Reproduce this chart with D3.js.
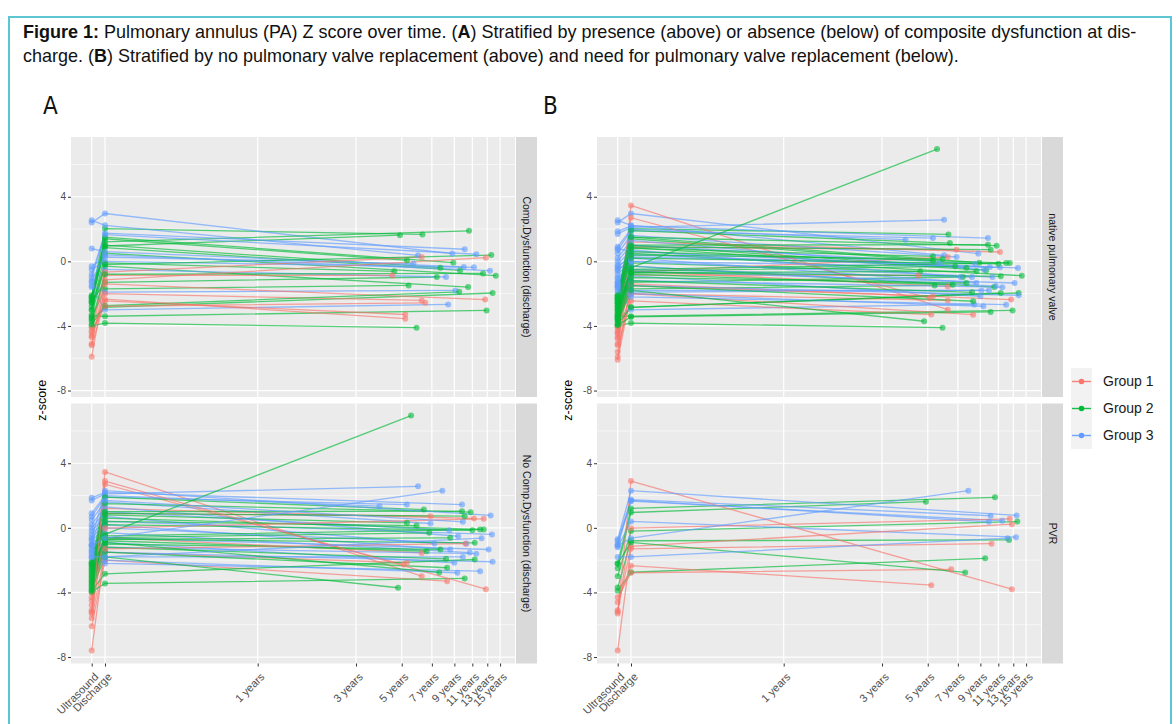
<!DOCTYPE html>
<html><head><meta charset="utf-8">
<script src="https://cdn.jsdelivr.net/npm/d3@7"></script>
<style>
body{margin:0;background:#fff;}
svg{display:block;font-family:"Liberation Sans",Arial,Helvetica,sans-serif;}
</style>
</head><body>
<svg id="chart" width="1176" height="724"></svg>
<script>
// ---------------- DATA ----------------
const groupNames = ["Group 1", "Group 2", "Group 3"];
const groupColors = ["#F8766D", "#00BA38", "#619CFF"];

// time axis (years); Ultrasound and Discharge are early time points on the log axis
const timeTickValues = [0.1565, 0.1816, 1, 3, 5, 7, 9, 11, 13, 15];
const timeTickLabels = ["Ultrasound", "Discharge", "1 years", "3 years", "5 years", "7 years", "9 years", "11 years", "13 years", "15 years"];
const ultrasoundTime = 0.1565;
const dischargeTime = 0.1816;
const zMajorTicks = [-8, -4, 0, 4];
const zMinorTicks = [-6, -2, 2, 6];

// patient records: [group, ultrasound z, discharge z, follow-up years, follow-up z]
// composite dysfunction at discharge, native pulmonary valve
const compDysNative = [
  [2, -2.2, 2.03, 6.3, 1.67], [2, -2.4, 1.5, 8.9, -0.08], [2, -2.1, 1.4, 5.3, 0.06],
  [2, -2.6, 1.0, 7.7, -0.39], [2, -2.3, 0.85, 9.6, -0.56], [2, -3.0, 0.5, 14.3, -0.89],
  [2, -2.8, -0.1, 4.6, -0.62], [2, -3.3, -0.3, 10.5, -1.59], [2, -2.5, -1.3, 7.4, -0.97],
  [2, -3.5, -1.7, 5.4, -1.49], [2, -3.6, -2.85, 13.8, -1.96], [2, -3.4, -3.4, 12.9, -3.04],
  [2, -4.0, -3.82, 5.9, -4.11],
  [3, 2.4, 2.96, 8.8, 0.48], [3, 2.54, 2.23, 6.0, 0.37], [3, 0.79, 0.6, 10.0, -0.35],
  [3, -0.3, 0.27, 5.7, -0.14], [3, -0.5, 0.0, 11.2, -0.37], [3, -1.3, -0.5, 8.2, -0.97],
  [3, -1.5, -1.9, 9.1, -1.8], [3, -1.6, -3.0, 8.4, -2.67],
  [1, -4.1, -0.66, 6.25, 0.27], [1, -4.4, -0.85, 4.5, -0.87], [1, -5.9, -1.4, 12.7, -2.37],
  [1, -4.7, -2.0, 6.25, -2.42], [1, -5.2, -2.45, 5.2, -3.29]
];
// composite dysfunction at discharge, pulmonary valve replacement
const compDysPVR = [
  [2, -2.2, 1.2, 10.6, 1.89], [2, -2.5, 0.95, 4.9, 1.62], [2, -3.0, -0.2, 13.6, 0.39],
  [2, -3.7, -0.8, 12.4, -0.75], [2, -3.9, -2.75, 9.5, -1.89],
  [3, -0.8, 1.75, 10.1, 0.75], [3, -1.0, 1.65, 11.5, 0.44], [3, -1.2, 0.4, 13.4, -0.58],
  [1, -5.1, -1.15, 12.8, 0.23], [1, -4.6, -2.34, 5.2, -3.55], [1, -4.3, -2.78, 6.5, -2.57]
];
// no composite dysfunction, native pulmonary valve
const noCompDysNative = [
  [1, -4.5, 3.46, 6.25, -2.99], [1, -4.0, 2.7, 5.1, -2.27], [1, -4.3, 1.2, 11.2, 0.58],
  [1, -4.8, 0.9, 6.9, 0.72], [1, -5.1, -0.6, 6.25, -1.55], [1, -5.6, -1.5, 5.3, -2.16],
  [1, -6.1, -2.0, 8.3, -3.3],
  [3, 1.86, 2.2, 9.8, 1.44], [3, 1.7, 2.1, 6.0, 2.57], [3, 0.9, 2.0, 3.9, 1.34],
  [3, 0.7, 1.9, 5.3, 1.44], [3, 0.5, 1.6, 6.9, 0.27], [3, 0.2, 1.3, 9.4, -0.52],
  [3, 0.0, 1.0, 8.5, -0.15], [3, -0.2, 0.7, 7.2, -0.97], [3, -0.4, 0.4, 13.7, -0.41],
  [3, -0.6, 0.2, 8.6, -1.34], [3, -0.8, 0.0, 10.3, -0.97], [3, -1.0, -0.3, 10.7, -1.53],
  [3, -1.1, -0.6, 13.2, -1.34], [3, -1.3, -0.9, 9.0, -2.16], [3, -1.4, -1.2, 11.5, -1.6],
  [3, -1.5, -1.5, 13.8, -2.1], [3, -1.6, -1.8, 9.9, -1.8], [3, -1.75, -2.0, 9.3, -2.78],
  [3, -1.9, -2.2, 12.0, -2.68],
  [2, -2.1, 1.9, 6.4, 1.13], [2, -2.3, 1.5, 10.8, 0.97], [2, -2.2, 1.0, 9.8, 1.03],
  [2, -2.4, 0.9, 10.1, 0.72], [2, -2.6, 0.8, 5.3, 0.31], [2, -2.5, 0.6, 12.0, -0.1],
  [2, -2.7, 0.4, 5.9, 0.14], [2, -2.9, 0.2, 11.0, -0.15], [2, -3.1, -0.4, 5.55, 6.95],
  [2, -2.8, -0.5, 12.5, -0.1], [2, -3.0, -0.6, 6.8, -0.31], [2, -3.2, -0.7, 8.6, -0.62],
  [2, -3.3, -0.7, 11.3, -0.93], [2, -3.4, -0.8, 6.6, -1.45], [2, -3.5, -1.0, 7.7, -1.34],
  [2, -3.6, -1.2, 8.2, -1.92], [2, -3.7, -1.5, 8.3, -2.47], [2, -3.8, -1.8, 4.8, -3.71],
  [2, -3.9, -2.85, 11.3, -1.96], [2, -3.95, -3.44, 10.1, -3.13]
];
// no composite dysfunction, pulmonary valve replacement
const noCompDysPVR = [
  [1, -5.3, 2.9, 12.8, -3.8], [1, -5.2, -0.02, 12.5, 0.56], [1, -7.6, -1.3, 10.2, -0.98],
  [2, -2.2, -0.9, 7.6, -2.76],
  [3, -0.7, 2.3, 13.5, 0.77], [3, -1.1, 1.7, 9.9, 0.37], [3, -1.1, -0.64, 7.87, 2.3],
  [3, -1.8, -1.8, 12.2, -0.64]
];

const panelDefs = [
  {letter: "A", facets: [
    {label: "Comp.Dysfunction (discharge)", data: compDysNative.concat(compDysPVR)},
    {label: "No Comp.Dysfunction (discharge)", data: noCompDysNative.concat(noCompDysPVR)}]},
  {letter: "B", facets: [
    {label: "native pulmonary valve", data: compDysNative.concat(noCompDysNative)},
    {label: "PVR", data: compDysPVR.concat(noCompDysPVR)}]}
];

// ---------------- LAYOUT ----------------
const svg = d3.select("#chart");

// frame
svg.append("rect").attr("x", 9).attr("y", 17).attr("width", 1162).attr("height", 720)
  .attr("fill", "none").attr("stroke", "#5CC6D2").attr("stroke-width", 2);

// caption
const cap = svg.append("g");
const line1 = cap.append("text").attr("x", 23).attr("y", 38).attr("fill", "#111").style("font-size", "15px");
line1.append("tspan").attr("font-weight", "bold").text("Figure 1:");
line1.append("tspan").text(" Pulmonary annulus (PA) Z score over time. (");
line1.append("tspan").attr("font-weight", "bold").text("A");
line1.append("tspan").text(") Stratified by presence (above) or absence (below) of composite dysfunction at dis-");
const line2 = cap.append("text").attr("x", 23).attr("y", 62).attr("fill", "#111").style("font-size", "15px");
line2.append("tspan").text("charge. (");
line2.append("tspan").attr("font-weight", "bold").text("B");
line2.append("tspan").text(") Stratified by no pulmonary valve replacement (above) and need for pulmonary valve replacement (below).");
const l1 = line1.node().getComputedTextLength();
const fs = 15 * 1114 / l1;
line1.style("font-size", fs + "px");
line2.style("font-size", fs + "px");

const panelLeft = [71, 597];
const letterX = [43, 543];
const panelWidth = 444;
const facetTop = [137, 403.5];
const facetHeight = 260;
const stripW = 21;

const tickColor = "#333333";
const labelColor = "#4D4D4D";

panelDefs.forEach((pd, pi) => {
  const left = panelLeft[pi], right = left + panelWidth;
  const g = svg.append("g");
  g.append("text").attr("x", letterX[pi]).attr("y", 114).style("font-size", "24px")
    .style("font-family", "DejaVu Sans Condensed, DejaVu Sans, sans-serif").attr("fill", "#111").text(pd.letter);

  const x = d3.scaleLog().domain([0.1242, 17.72]).range([left, right]);

  pd.facets.forEach((f, fi) => {
    const top = facetTop[fi], bottom = top + facetHeight;
    const y = d3.scaleLinear().domain([-8.4, 7.7]).range([bottom, top]);
    const fg = g.append("g");
    fg.append("rect").attr("x", left).attr("y", top).attr("width", panelWidth).attr("height", facetHeight).attr("fill", "#EBEBEB");
    fg.selectAll(".minor").data(zMinorTicks).join("line")
      .attr("x1", left).attr("x2", right).attr("y1", d => y(d)).attr("y2", d => y(d))
      .attr("stroke", "#fff").attr("stroke-width", 0.6);
    fg.selectAll(".majory").data(zMajorTicks).join("line")
      .attr("x1", left).attr("x2", right).attr("y1", d => y(d)).attr("y2", d => y(d))
      .attr("stroke", "#fff").attr("stroke-width", 1.2);
    fg.selectAll(".majorx").data(timeTickValues).join("line")
      .attr("x1", d => x(d)).attr("x2", d => x(d)).attr("y1", top).attr("y2", bottom)
      .attr("stroke", "#fff").attr("stroke-width", 1.2);

    // strip
    fg.append("rect").attr("x", right + 1).attr("y", top).attr("width", stripW).attr("height", facetHeight).attr("fill", "#D9D9D9");
    fg.append("text").attr("transform", `translate(${right + 1 + stripW / 2},${top + facetHeight / 2}) rotate(90)`)
      .attr("text-anchor", "middle").attr("dy", "0.35em").style("font-size", "10.5px").attr("fill", "#1A1A1A").text(f.label);

    // y axis
    const ya = fg.append("g").attr("transform", `translate(${left},0)`)
      .call(d3.axisLeft(y).tickValues(zMajorTicks).tickSize(3).tickPadding(2).tickFormat(d => String(d)));
    ya.select(".domain").remove();
    ya.selectAll(".tick line").attr("stroke", tickColor);
    ya.selectAll(".tick text").attr("fill", labelColor).style("font-size", "10px").style("font-family", "Liberation Sans, Arial, sans-serif");

    // data
    const lineGen = d3.line().x(d => x(d[0])).y(d => y(d[1]));
    const tracks = f.data.map(p => {
      const pts = [];
      if (p[1] !== null) pts.push([ultrasoundTime, p[1]]);
      pts.push([dischargeTime, p[2]]);
      pts.push([p[3], p[4]]);
      return {group: p[0], pts};
    });
    fg.append("g").selectAll("path").data(tracks).join("path")
      .attr("d", d => lineGen(d.pts)).attr("fill", "none")
      .attr("stroke", d => groupColors[d.group - 1]).attr("stroke-width", 1.3).attr("stroke-opacity", 0.65);
    const allPts = tracks.flatMap(t => t.pts.map(p => ({group: t.group, p})));
    fg.append("g").selectAll("circle").data(allPts).join("circle")
      .attr("cx", d => x(d.p[0])).attr("cy", d => y(d.p[1])).attr("r", 3)
      .attr("fill", d => groupColors[d.group - 1]).attr("fill-opacity", 0.6);

    if (fi === 1) {
      const xa = fg.append("g").attr("transform", `translate(0,${bottom})`)
        .call(d3.axisBottom(x).tickValues(timeTickValues).tickSize(3).tickFormat((d, i) => timeTickLabels[i]));
      xa.select(".domain").remove();
      xa.selectAll(".tick line").attr("stroke", tickColor);
      xa.selectAll(".tick text").attr("fill", labelColor).style("font-size", "11px")
        .style("font-family", "Liberation Sans, Arial, sans-serif")
        .attr("text-anchor", "end").attr("y", 0).attr("dy", 0)
        .attr("transform", "translate(7,14) rotate(-45)");
    }
  });

  // y title
  g.append("text").attr("transform", `translate(${left - 25},${(facetTop[0] + facetTop[1] + facetHeight) / 2}) rotate(-90)`)
    .attr("text-anchor", "middle").style("font-size", "12.5px").attr("fill", "#000").text("z-score");
});

// legend
const lg = svg.append("g");
const keyX = 1071, keyW = 21, keyH = 27, keyTop = 368;
groupNames.forEach((name, i) => {
  const cy = keyTop + i * keyH + keyH / 2;
  lg.append("rect").attr("x", keyX).attr("y", keyTop + i * keyH).attr("width", keyW).attr("height", keyH).attr("fill", "#F2F2F2");
  lg.append("line").attr("x1", keyX + 1).attr("x2", keyX + keyW - 1).attr("y1", cy).attr("y2", cy)
    .attr("stroke", groupColors[i]).attr("stroke-width", 1.4).attr("stroke-opacity", 0.9);
  lg.append("circle").attr("cx", keyX + keyW / 2).attr("cy", cy).attr("r", 2.8).attr("fill", groupColors[i]);
  lg.append("text").attr("x", 1103).attr("y", cy).attr("dy", "0.35em").style("font-size", "14px").attr("fill", "#1A1A1A").text(name);
});
</script>
</body></html>
